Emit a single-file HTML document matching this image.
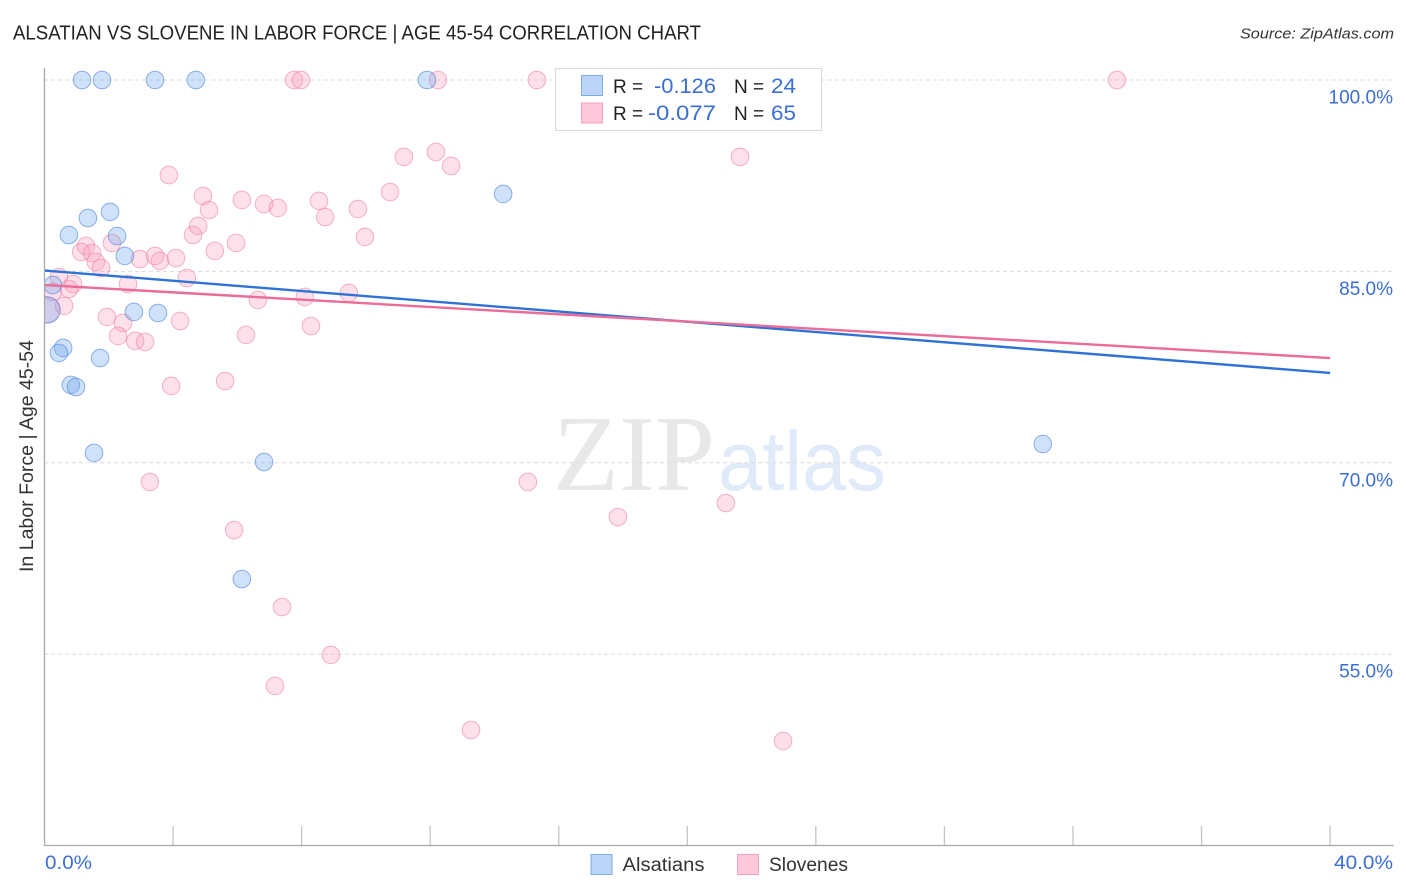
<!DOCTYPE html>
<html lang="en">
<head>
<meta charset="utf-8">
<title>Alsatian vs Slovene in Labor Force | Age 45-54 Correlation Chart</title>
<style>
html,body{margin:0;padding:0;background:#fff;width:1406px;height:892px;overflow:hidden}
svg{display:block;font-family:"Liberation Sans",Arial,sans-serif}
</style>
</head>
<body>
<svg id="chart" width="1406" height="892" viewBox="0 0 1406 892" xmlns="http://www.w3.org/2000/svg">
  <defs>
    <clipPath id="plot-clip"><rect x="45" y="60" width="1349" height="785"/></clipPath>
  </defs>
  <text x="13" y="39.5" font-size="20" fill="#222" textLength="688" lengthAdjust="spacingAndGlyphs">ALSATIAN VS SLOVENE IN LABOR FORCE | AGE 45-54 CORRELATION CHART</text>
  <text x="1394" y="38.5" font-size="15" font-style="italic" fill="#333" text-anchor="end" textLength="154" lengthAdjust="spacingAndGlyphs">Source: ZipAtlas.com</text>

  <g>
    <text x="553" y="490" font-family="'Liberation Serif',serif" font-size="108" fill="#e8e8e8" textLength="162" lengthAdjust="spacingAndGlyphs">ZIP</text>
    <text x="718" y="490" font-size="84" fill="#e0ebf9" textLength="168" lengthAdjust="spacingAndGlyphs">atlas</text>
  </g>

  <g id="grid"></g>
  <g id="yticks"></g>
  <g id="xticks"></g>
  <line x1="44.5" y1="68" x2="44.5" y2="846" stroke="#aaa" stroke-width="1.3"/>
  <line x1="44" y1="845.5" x2="1394" y2="845.5" stroke="#aaa" stroke-width="1.3"/>

  <g id="points" clip-path="url(#plot-clip)"></g>
  <g id="trends" clip-path="url(#plot-clip)"></g>

  <text transform="translate(33,456) rotate(-90)" font-size="19" fill="#333" text-anchor="middle" textLength="232" lengthAdjust="spacingAndGlyphs">In Labor Force | Age 45-54</text>
  <text x="45" y="869" font-size="19" fill="#3b6fd4" textLength="47" lengthAdjust="spacingAndGlyphs">0.0%</text>
  <text x="1393" y="869" font-size="19" fill="#3b6fd4" text-anchor="end" textLength="59" lengthAdjust="spacingAndGlyphs">40.0%</text>

  <g>
    <rect x="555.5" y="68.5" width="266" height="62" fill="#fff" stroke="#d8d8d8" stroke-width="1"/>
    <rect x="581.5" y="75.5" width="21" height="20" fill="#bcd5f7" stroke="#7fabe6" stroke-width="1"/>
    <rect x="581.5" y="103" width="21" height="20" fill="#fcc8da" stroke="#f3a3bd" stroke-width="1"/>
    <text x="613" y="93" font-size="19" fill="#222">R =</text>
    <text x="716" y="93" font-size="21" fill="#3b6fd4" text-anchor="end" textLength="62" lengthAdjust="spacingAndGlyphs">-0.126</text>
    <text x="734" y="93" font-size="19" fill="#222">N =</text>
    <text x="771" y="93" font-size="21" fill="#3b6fd4" textLength="25" lengthAdjust="spacingAndGlyphs">24</text>
    <text x="613" y="120" font-size="19" fill="#222">R =</text>
    <text x="716" y="120" font-size="21" fill="#3b6fd4" text-anchor="end" textLength="68" lengthAdjust="spacingAndGlyphs">-0.077</text>
    <text x="734" y="120" font-size="19" fill="#222">N =</text>
    <text x="771" y="120" font-size="21" fill="#3b6fd4" textLength="25" lengthAdjust="spacingAndGlyphs">65</text>
  </g>

  <g>
    <rect x="591" y="854.5" width="21" height="20" fill="#bcd5f7" stroke="#7fabe6" stroke-width="1"/>
    <text x="622.5" y="871" font-size="19" fill="#333" textLength="82" lengthAdjust="spacingAndGlyphs">Alsatians</text>
    <rect x="737.5" y="854.5" width="21" height="20" fill="#fcc8da" stroke="#f3a3bd" stroke-width="1"/>
    <text x="769" y="871" font-size="19" fill="#333" textLength="79" lengthAdjust="spacingAndGlyphs">Slovenes</text>
  </g>
</svg>
<script>
// Chart data
const yTickValues = [100, 85, 70, 55];
const yTickLabels = ["100.0%", "85.0%", "70.0%", "55.0%"];
const xTickValues = [4, 8, 12, 16, 20, 24, 28, 32, 36, 40];

const alsatianX = [1.17,1.79,3.44,4.71,11.90,14.27,1.35,2.04,0.76,2.26,2.50,0.26,2.78,3.53,0.08,0.58,0.45,1.73,0.82,0.98,1.54,6.83,31.06,6.14];
const alsatianY = [100,100,100,100,100,91.07,89.18,89.66,87.85,87.77,86.21,83.93,81.82,81.74,81.98,79.00,78.61,78.21,76.10,75.94,70.77,70.06,71.47,60.89];
const alsatianWeight = [1,1,1,1,1,1,1,1,1,1,1,1,1,1,1.5,1,1,1,1,1,1,1,1,1];

const sloveneX = [7.76,7.98,12.24,15.32,33.37,21.64,11.18,12.18,12.65,3.87,10.75,4.93,6.14,6.83,7.26,8.54,5.12,9.75,8.73,4.78,4.62,9.97,5.96,2.10,1.29,1.14,1.48,5.30,2.97,3.44,3.59,4.09,1.60,1.76,4.43,0.45,0.26,0.89,0.76,2.60,6.64,8.10,9.47,0.08,0.61,1.94,2.44,4.22,8.29,2.29,2.82,3.13,6.27,3.94,5.62,3.28,15.04,21.20,17.84,5.90,7.39,8.91,7.17,13.27,22.98];
const sloveneY = [100,100,100,100,100,93.97,93.97,94.36,93.26,92.55,91.22,90.91,90.60,90.28,89.97,90.52,89.81,89.89,89.26,88.56,87.85,87.70,87.23,87.23,86.99,86.52,86.44,86.60,85.97,86.21,85.82,86.05,85.74,85.27,84.48,84.56,83.39,84.01,83.62,84.01,82.76,83.00,83.31,81.98,82.29,81.43,80.96,81.11,80.72,79.94,79.55,79.47,80.02,76.02,76.41,68.50,68.50,66.85,65.75,64.73,58.70,54.94,52.51,49.06,48.20];
const sloveneWeight = [1,1,1,1,1,1,1,1,1,1,1,1,1,1,1,1,1,1,1,1,1,1,1,1,1,1,1,1,1,1,1,1,1,1,1,1,1,1,1,1,1,1,1,1.45,1,1,1,1,1,1,1,1,1,1,1,1,1,1,1,1,1,1,1,1,1];

const trendX = [0, 40];
const alsatianTrend = [85.07, 77.04];
const sloveneTrend = [83.93, 78.21];

// Axis functions
const xScale = v => 44.5 + v * 32.14;
const yScale = v => 80 + (100 - v) * 12.76;
const SVGNS = "http://www.w3.org/2000/svg";

function make(tag, attrs, parent) {
  const el = document.createElementNS(SVGNS, tag);
  for (const k in attrs) el.setAttribute(k, attrs[k]);
  parent.appendChild(el);
  return el;
}

const gridGroup = document.getElementById("grid");
const yLabelGroup = document.getElementById("yticks");
yTickValues.forEach((v, i) => {
  const line = make("line", {x1: 44, x2: 1394, y1: yScale(v), y2: yScale(v), stroke: "#dcdcdc", "stroke-width": 1, "stroke-dasharray": "4 3"}, gridGroup);
  
  
  const label = make("text", {x: 1393, y: yScale(v) + 23.5, "font-size": 19, fill: "#3b6fd4", "text-anchor": "end"}, yLabelGroup);
  
  
  label.textContent = yTickLabels[i];
});

const xTickGroup = document.getElementById("xticks");
xTickValues.forEach(v => {
  const tick = make("line", {x1: xScale(v), x2: xScale(v), y1: 826, y2: 845, stroke: "#c4c4c4", "stroke-width": 1.3}, xTickGroup);
  
  
});

const pointGroup = document.getElementById("points");
function drawSeries(xs, ys, weights, fill, stroke, name) {
  xs.forEach((x, i) => {
    const c = make("circle", {cx: xScale(x), cy: yScale(ys[i]), r: 8.8 * weights[i], fill: fill, stroke: stroke, "stroke-width": 1}, pointGroup);
    
    
  });
}
drawSeries(sloveneX, sloveneY, sloveneWeight, "rgba(248,160,190,0.32)", "rgba(236,130,165,0.6)", "slovene-point");
drawSeries(alsatianX, alsatianY, alsatianWeight, "rgba(110,165,235,0.32)", "rgba(70,130,220,0.6)", "alsatian-point");

const trendGroup = document.getElementById("trends");
const blueLine = make("line", {x1: xScale(trendX[0]), x2: xScale(trendX[1]), y1: yScale(alsatianTrend[0]), y2: yScale(alsatianTrend[1]), stroke: "#2f72d6", "stroke-width": 2.4}, trendGroup);


const pinkLine = make("line", {x1: xScale(trendX[0]), x2: xScale(trendX[1]), y1: yScale(sloveneTrend[0]), y2: yScale(sloveneTrend[1]), stroke: "#ea6c98", "stroke-width": 2.4}, trendGroup);


</script>
</body>
</html>
